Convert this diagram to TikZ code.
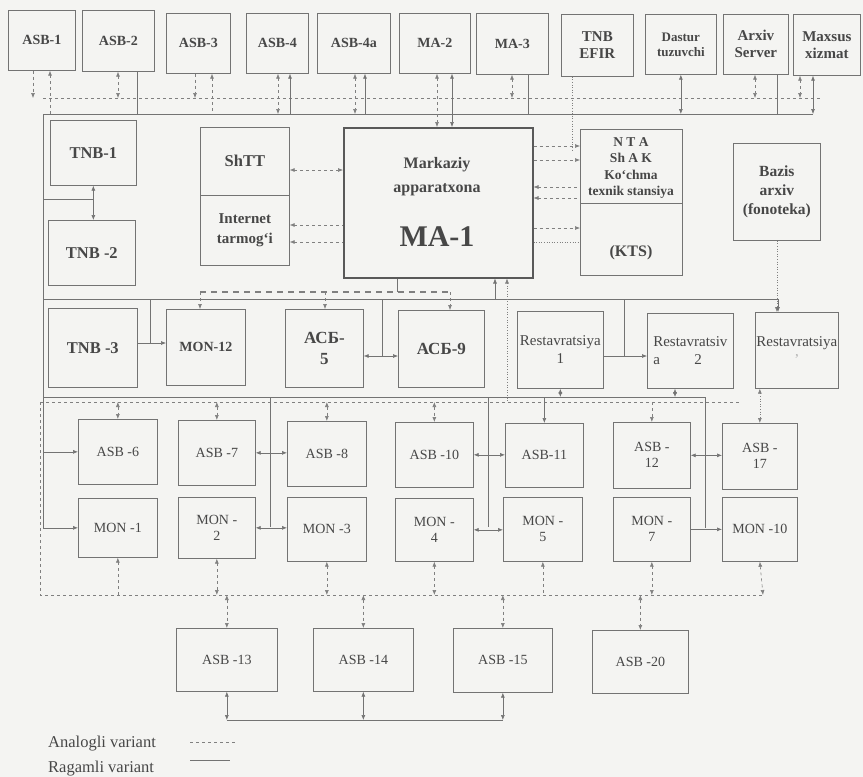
\documentclass[tikz,border=0pt]{standalone}
\usepackage{fontspec}
\setmainfont{Liberation Serif}
\usetikzlibrary{arrows.meta,calc}
\definecolor{bgc}{RGB}{244,244,242}

\begin{document}
\begin{tikzpicture}[x=1pt,y=-1pt,
  >={Latex[length=5pt,width=4pt]},
  blk/.style={draw=black!55,line width=0.7pt,anchor=north west,inner sep=1pt,align=center,
    text=black!72,font=\fontsize{14}{16}\selectfont\bfseries},
  big/.style={font=\fontsize{16.5}{19}\selectfont\bfseries},
  reg/.style={font=\fontsize{14}{16}\selectfont},
  sml/.style={font=\fontsize{15}{17}\selectfont\bfseries},
  lbl/.style={align=center,text=black!72,inner sep=0pt},
  dig/.style={draw=black!55,line width=0.6pt},
  ana/.style={draw=black!50,line width=0.6pt,dash pattern=on 3pt off 3pt},
  dotl/.style={draw=black!50,line width=0.6pt,dotted}]
  \useasboundingbox (0,0) rectangle (863,777);
  \fill[bgc] (0,0) rectangle (863,777); % 背景

  % 上段のブロック
  \node[blk,minimum width=67pt,minimum height=60pt] (asb1) at (8,10) {ASB-1};
  \node[blk,minimum width=72pt,minimum height=61pt] (asb2) at (82,10) {ASB-2};
  \node[blk,minimum width=64pt,minimum height=60pt] (asb3) at (166,13) {ASB-3};
  \node[blk,minimum width=62pt,minimum height=60pt] (asb4) at (246,13) {ASB-4};
  \node[blk,minimum width=73pt,minimum height=60pt] (asb4a) at (317,13) {ASB-4a};
  \node[blk,minimum width=71pt,minimum height=60pt] (ma2) at (399,13) {MA-2};
  \node[blk,minimum width=72pt,minimum height=61pt] (ma3) at (476,13) {MA-3};
  \node[blk,sml,minimum width=72pt,minimum height=62pt] (efir) at (561,14) {TNB\\EFIR};
  \node[blk,font=\fontsize{13}{15}\selectfont\bfseries,minimum width=71pt,minimum height=60pt] (dastur) at (645,14) {Dastur\\tuzuvchi};
  \node[blk,sml,minimum width=65pt,minimum height=60pt] (arxiv) at (723,14) {Arxiv\\Server};
  \node[blk,sml,minimum width=67pt,minimum height=61pt] (maxsus) at (793,14) {Maxsus\\xizmat};

  % 中段のブロック
  \node[blk,big,minimum width=86pt,minimum height=65pt] (tnb1) at (50,120) {TNB-1};
  \node[blk,big,minimum width=87pt,minimum height=65pt] (tnb2) at (48,220) {TNB -2};
  \node[blk,big,minimum width=89pt,minimum height=68pt] (shtt) at (200,127) {ShTT};
  \node[blk,font=\fontsize{15}{20}\selectfont\bfseries,minimum width=89pt,minimum height=70pt] (inet) at (200,195) {Internet\\tarmog`i};
  \node[blk,draw=black!65,line width=1.5pt,minimum width=189pt,minimum height=150pt] (ma1) at (343,127) {};
  \node[lbl,font=\fontsize{16}{24}\selectfont\bfseries] (ma1t) at (437,177) {Markaziy\\apparatxona};
  \node[lbl,font=\fontsize{30}{32}\selectfont\bfseries] (ma1n) at (437,237) {MA-1};
  \node[blk,minimum width=102pt,minimum height=146pt] (nta) at (580,129) {};
  \node[lbl,font=\fontsize{13.5}{16.5}\selectfont\bfseries] (ntat) at (631,168) {N T A\\Sh A K\\Ko`chma\\texnik stansiya};
  \draw[dig] (nta.west |- 0,203) -- (nta.east |- 0,203); % 区切り線
  \node[lbl,font=\fontsize{16}{18}\selectfont\bfseries] (kts) at (631,253) {(KTS)};
  \node[blk,font=\fontsize{15.5}{19}\selectfont\bfseries,minimum width=87pt,minimum height=97pt] (bazis) at (733,143) {Bazis\\arxiv\\(fonoteka)};

  % 三段目のブロック
  \node[blk,big,minimum width=89pt,minimum height=79pt] (tnb3) at (48,308) {TNB -3};
  \node[blk,minimum width=79pt,minimum height=76pt] (mon12) at (166,309) {MON-12};
  \node[blk,font=\fontsize{17}{21}\selectfont\bfseries,minimum width=78pt,minimum height=78pt] (acb5) at (285,309) {АСБ-\\5};
  \node[blk,font=\fontsize{17}{21}\selectfont\bfseries,minimum width=86pt,minimum height=77pt] (acb9) at (398,310) {АСБ-9};
  \node[blk,font=\fontsize{15}{18}\selectfont,minimum width=86pt,minimum height=77pt] (res1) at (517,311) {Restavratsiya\\1};
  \node[blk,font=\fontsize{15}{18}\selectfont,align=left,minimum width=86pt,minimum height=75pt] (res2) at (647,313) {Restavratsiv\\a\hspace{2.3em}2};
  \node[blk,font=\fontsize{15}{18}\selectfont,minimum width=83pt,minimum height=76pt] (res3) at (755,312) {Restavratsiya\\{\color{black!30}'}};

  % 四段目・五段目のブロック
  \node[blk,reg,minimum width=79pt,minimum height=65pt] (asb6) at (78,419) {ASB -6};
  \node[blk,reg,minimum width=77pt,minimum height=65pt] (asb7) at (178,420) {ASB -7};
  \node[blk,reg,minimum width=79pt,minimum height=65pt] (asb8) at (287,421) {ASB -8};
  \node[blk,reg,minimum width=78pt,minimum height=65pt] (asb10) at (395,422) {ASB -10};
  \node[blk,reg,minimum width=78pt,minimum height=64pt] (asb11) at (505,423) {ASB-11};
  \node[blk,reg,minimum width=77pt,minimum height=66pt] (asb12) at (613,422) {ASB -\\12};
  \node[blk,reg,minimum width=75pt,minimum height=66pt] (asb17) at (722,423) {ASB -\\17};
  \node[blk,reg,minimum width=79pt,minimum height=59pt] (mon1) at (78,498) {MON -1};
  \node[blk,reg,minimum width=77pt,minimum height=61pt] (mon2) at (178,497) {MON -\\2};
  \node[blk,reg,minimum width=79pt,minimum height=64pt] (mon3) at (287,497) {MON -3};
  \node[blk,reg,minimum width=78pt,minimum height=63pt] (mon4) at (395,498) {MON -\\4};
  \node[blk,reg,minimum width=79pt,minimum height=64pt] (mon5) at (503,497) {MON -\\5};
  \node[blk,reg,minimum width=77pt,minimum height=64pt] (mon7) at (613,497) {MON -\\7};
  \node[blk,reg,minimum width=75pt,minimum height=64pt] (mon10) at (722,497) {MON -10};

  % 最下段のブロック
  \node[blk,reg,minimum width=101pt,minimum height=63pt] (asb13) at (176,628) {ASB -13};
  \node[blk,reg,minimum width=100pt,minimum height=63pt] (asb14) at (313,628) {ASB -14};
  \node[blk,reg,minimum width=99pt,minimum height=64pt] (asb15) at (453,628) {ASB -15};
  \node[blk,reg,minimum width=96pt,minimum height=63pt] (asb20) at (592,630) {ASB -20};

  % バスの端点
  \coordinate (aL) at (43,98);  \coordinate (aR) at (822,98);  % 上のアナログ
  \coordinate (dL) at (43,114); \coordinate (dR) at (813,114); % 上のデジタル
  \coordinate (mL) at (43,299); \coordinate (mR) at (778,299); % 中央のデジタル
  \coordinate (kL) at (200,292); \coordinate (kR) at (450,292); % 中央のアナログ
  \coordinate (rL) at (43,397); \coordinate (rR) at (705,397); % 四段目のデジタル
  \coordinate (qL) at (40,402); \coordinate (qR) at (740,402); % 四段目のアナログ
  \coordinate (bL) at (40,595); \coordinate (bR) at (763,595); % 下のアナログ
  \coordinate (eY) at (0,720); % 最下段のデジタル

  \draw[ana] (aL) -- (aR);
  \draw[dig] (dL) -- (dR);
  \draw[dig] (mL) -- (mR);
  \draw[ana,line width=1.1pt,dash pattern=on 6pt off 5pt] (kL) -- (kR);
  \draw[dig] (rL) -- (rR);
  \draw[ana] (qL) -- (qR);
  \draw[ana] (qL) -- (bL) -- (bR);
  \draw[dig] (asb13.south |- eY) -- (asb15.south |- eY);

  % 上段からバスへ
  \draw[ana,->] (asb1.south -| 33,0) -- (33,0 |- aL);
  \draw[ana,<-] (asb1.south -| 50,0) -- (50,0 |- dL);
  \draw[ana,<->] (asb2.south -| 118,0) -- (118,0 |- aL);
  \draw[dig] (asb2.south -| 137,0) -- (137,0 |- dL);
  \draw[ana,->] (asb3.south -| 195,0) -- (195,0 |- aL);
  \draw[ana,<-] (asb3.south -| 212,0) -- (212,0 |- dL);
  \draw[ana,<->] (asb4.south -| 278,0) -- (278,0 |- dL);
  \draw[dig,<-] (asb4.south -| 290,0) -- (290,0 |- dL);
  \draw[ana,<->] (asb4a.south -| 355,0) -- (355,0 |- dL);
  \draw[dig,<-] (asb4a.south -| 365,0) -- (365,0 |- dL);
  \draw[ana,<->] (ma2.south -| 437,0) -- (ma1.north -| 437,0);
  \draw[dig,<->] (ma2.south -| 452,0) -- (ma1.north -| 452,0);
  \draw[ana,<->] (ma3.south -| 512,0) -- (512,0 |- aL);
  \draw[dig] (ma3.south -| 528,0) -- (528,0 |- dL);
  \draw[dotl] (efir.south -| 572,0) -- (572,150);
  \draw[dig,<->] (dastur.south) -- (dastur.south |- dL);
  \draw[ana,<->] (arxiv.south -| 755,0) -- (755,0 |- aL);
  \draw[dig] (arxiv.south -| 777,0) -- (777,0 |- dL);
  \draw[ana,<->] (maxsus.south -| 800,0) -- (800,0 |- aL);
  \draw[dig,<->] (maxsus.south -| 813,0) -- (dR);

  % 左の枠線
  \draw[dig,->] (dL) -- (dL |- mon1.west) -- (mon1.west);
  \draw[dig,->] (dL |- asb6.west) -- (asb6.west);
  \draw[dig,<->] (tnb1.south) -- (tnb1.south |- tnb2.north);
  \draw[dig] (43,199) -- (tnb1.south |- 0,199);

  % MA-1 との接続
  \draw[ana,<->] (shtt.east |- 0,170) -- (ma1.west |- 0,170);
  \draw[ana,<-] (inet.east |- 0,225) -- (ma1.west |- 0,225);
  \draw[ana,<-] (inet.east |- 0,242) -- (ma1.west |- 0,242);
  \draw[ana,->] (ma1.east |- 0,146) -- (nta.west |- 0,146);
  \draw[ana,->] (ma1.east |- 0,160) -- (nta.west |- 0,160);
  \draw[ana,<-] (ma1.east |- 0,187) -- (nta.west |- 0,187);
  \draw[ana,<-] (ma1.east |- 0,198) -- (nta.west |- 0,198);
  \draw[ana,->] (ma1.east |- 0,228) -- (nta.west |- 0,228);
  \draw[dotl] (ma1.east |- 0,242) -- (nta.west |- 0,242);
  \draw[dig] (ma1.south -| 397,0) -- (397,0 |- kL);
  \draw[dig,<-] (ma1.south -| 495,0) -- (495,0 |- mL);
  \draw[dotl,<-] (ma1.south -| 507,0) -- (507,0 |- qL);
  \draw[dotl,->] (bazis.south) -- (bazis.south |- res3.north);
  \draw[dig,->] (mR) -- (mR |- res3.north);

  % 三段目の接続
  \draw[ana,->] (kL) -- (kL |- mon12.north);
  \draw[ana,->] (325,0 |- kL) -- (325,0 |- acb5.north);
  \draw[ana,->] (kR) -- (kR |- acb9.north);
  \draw[dig] (150,0 |- mL) -- (150,343);
  \draw[dig,->] (tnb3.east |- 0,343) -- (mon12.west |- 0,343);
  \draw[dig] (382,0 |- mL) -- (382,356);
  \draw[dig,<->] (acb5.east |- 0,356) -- (acb9.west |- 0,356);
  \draw[dig] (624,0 |- mL) -- (624,356);
  \draw[dig,->] (res1.east |- 0,356) -- (res2.west |- 0,356);

  % 四段目の接続
  \draw[ana,<->] (asb6.north |- qL) -- (asb6.north);
  \draw[ana,<->] (asb7.north |- qL) -- (asb7.north);
  \draw[ana,<->] (asb8.north |- qL) -- (asb8.north);
  \draw[ana,<->] (asb10.north |- qL) -- (asb10.north);
  \draw[dig,<->] (res1.south) -- (res1.south |- rL);
  \draw[dig,<->] (res2.south -| 675,0) -- (675,0 |- rL);
  \draw[dig,->] (asb11.north |- rL) -- (asb11.north);
  \draw[ana,->] (asb12.north |- qL) -- (asb12.north);
  \draw[dotl,<->] (asb17.north |- res3.south) -- (asb17.north);
  \draw[dig] (270,0 |- rL) -- (270,527);
  \draw[dig] (488,0 |- rL) -- (488,527);
  \draw[dig] (rR) -- (705,528);
  \draw[dig,<->] (asb7.east) -- (asb7.east -| asb8.west);
  \draw[dig,<->] (asb10.east) -- (asb10.east -| asb11.west);
  \draw[dig,<->] (asb12.east) -- (asb12.east -| asb17.west);
  \draw[dig,<->] (mon2.east) -- (mon2.east -| mon3.west);
  \draw[dig,<->] (mon4.east) -- (mon4.east -| mon5.west);
  \draw[dig,->] (mon7.east) -- (mon7.east -| mon10.west);

  % 五段目から下のバスへ
  \draw[ana,<-] (mon1.south) -- (mon1.south |- bL);
  \draw[ana,<->] (mon2.south) -- (mon2.south |- bL);
  \draw[ana,<->] (mon3.south) -- (mon3.south |- bL);
  \draw[ana,<->] (mon4.south) -- (mon4.south |- bL);
  \draw[ana,<-] (mon5.south) -- (mon5.south |- bL);
  \draw[ana,<->] (mon7.south) -- (mon7.south |- bL);
  \draw[ana,<->] (mon10.south) -- (bR);

  % 最下段の接続
  \draw[ana,<->] (asb13.north |- bL) -- (asb13.north);
  \draw[ana,<->] (asb14.north |- bL) -- (asb14.north);
  \draw[ana,<->] (asb15.north |- bL) -- (asb15.north);
  \draw[ana,<->] (asb20.north |- bL) -- (asb20.north);
  \draw[dig,<->] (asb13.south) -- (asb13.south |- eY);
  \draw[dig,<->] (asb14.south) -- (asb14.south |- eY);
  \draw[dig,<->] (asb15.south) -- (asb15.south |- eY);

  % 凡例
  \node[lbl,anchor=west,font=\fontsize{16.5}{18}\selectfont] (leg1) at (48,744) {Analogli variant};
  \node[lbl,anchor=west,font=\fontsize{16.5}{18}\selectfont] (leg2) at (48,769) {Ragamli variant};
  \coordinate (la0) at (190,742); \coordinate (la1) at (235,742);
  \coordinate (ld0) at (190,760); \coordinate (ld1) at (230,760);
  \draw[ana] (la0) -- (la1);
  \draw[dig] (ld0) -- (ld1);
\end{tikzpicture}
\end{document}
